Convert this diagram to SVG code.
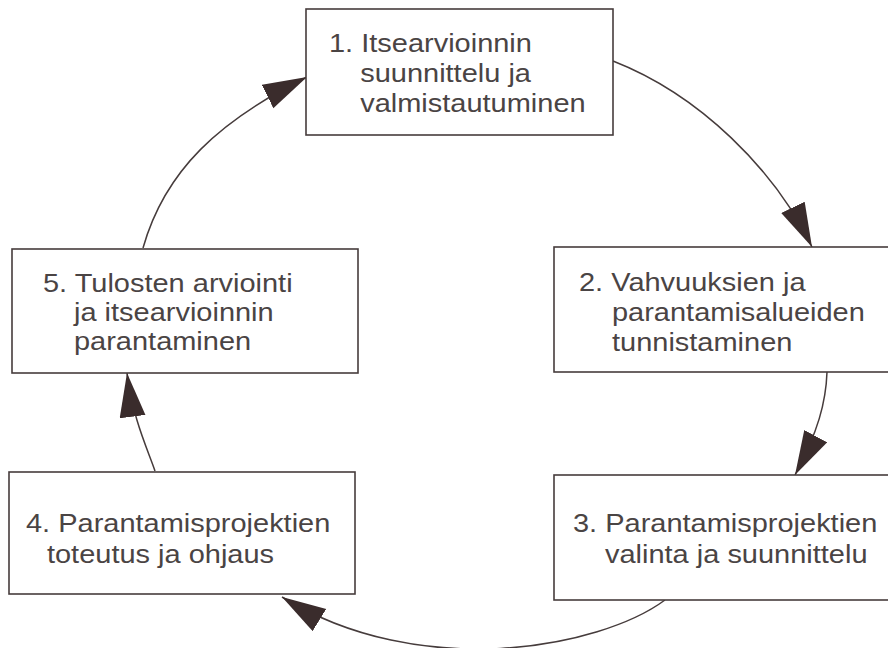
<svg xmlns="http://www.w3.org/2000/svg" width="888" height="648" viewBox="0 0 888 648">
  <defs>
    <style>
      .box { fill: #ffffff; stroke: #463c3c; stroke-width: 1.6; }
      .lbl { font-family: "Liberation Sans", Arial, sans-serif; font-size: 26px; fill: #4a4444; }
      .conn { fill: none; stroke: #463c3c; stroke-width: 1.5; }
    </style>
    <marker id="arrow" markerUnits="userSpaceOnUse" markerWidth="46" markerHeight="28" refX="44" refY="13" orient="auto" viewBox="0 0 46 28">
      <path d="M0,0 L44,13 L0,26 Z" fill="#3a2c2c"/>
    </marker>
  </defs>
  <rect width="888" height="648" fill="#ffffff"/>

  <g id="connectors">
    <path class="conn" d="M613,61 C700,95 775,170 812,247" marker-end="url(#arrow)"/>
    <path class="conn" d="M827,372 C826,402 818,432 795,475" marker-end="url(#arrow)"/>
    <path class="conn" d="M665,600 C600,648 420,682 282,597" marker-end="url(#arrow)"/>
    <path class="conn" d="M155,471 C148,450 133,420 127,373" marker-end="url(#arrow)"/>
    <path class="conn" d="M143,248 C165,170 220,120 307,77" marker-end="url(#arrow)"/>
  </g>

  <g id="node1">
    <rect class="box" x="306" y="9" width="307" height="126"/>
    <text class="lbl" transform="translate(329,0) scale(1.115,1)"><tspan x="0" y="52">1. Itsearvioinnin</tspan><tspan x="28" y="82">suunnittelu ja</tspan><tspan x="28" y="112">valmistautuminen</tspan></text>
  </g>

  <g id="node2">
    <rect class="box" x="554" y="247" width="346" height="125"/>
    <text class="lbl" transform="translate(579,0) scale(1.115,1)"><tspan x="0" y="291">2. Vahvuuksien ja</tspan><tspan x="29.6" y="321">parantamisalueiden</tspan><tspan x="29.6" y="351">tunnistaminen</tspan></text>
  </g>

  <g id="node3">
    <rect class="box" x="554" y="475" width="346" height="125"/>
    <text class="lbl" transform="translate(573,0) scale(1.115,1)"><tspan x="0" y="532">3. Parantamisprojektien</tspan><tspan x="28.7" y="563">valinta ja suunnittelu</tspan></text>
  </g>

  <g id="node4">
    <rect class="box" x="9" y="472" width="346" height="122"/>
    <text class="lbl" transform="translate(26,0) scale(1.115,1)"><tspan x="0" y="532">4. Parantamisprojektien</tspan><tspan x="18.8" y="563">toteutus ja ohjaus</tspan></text>
  </g>

  <g id="node5">
    <rect class="box" x="12" y="249" width="346" height="124"/>
    <text class="lbl" transform="translate(43,0) scale(1.115,1)"><tspan x="0" y="292">5. Tulosten arviointi</tspan><tspan x="27.8" y="321">ja itsearvioinnin</tspan><tspan x="27.8" y="350">parantaminen</tspan></text>
  </g>
</svg>
